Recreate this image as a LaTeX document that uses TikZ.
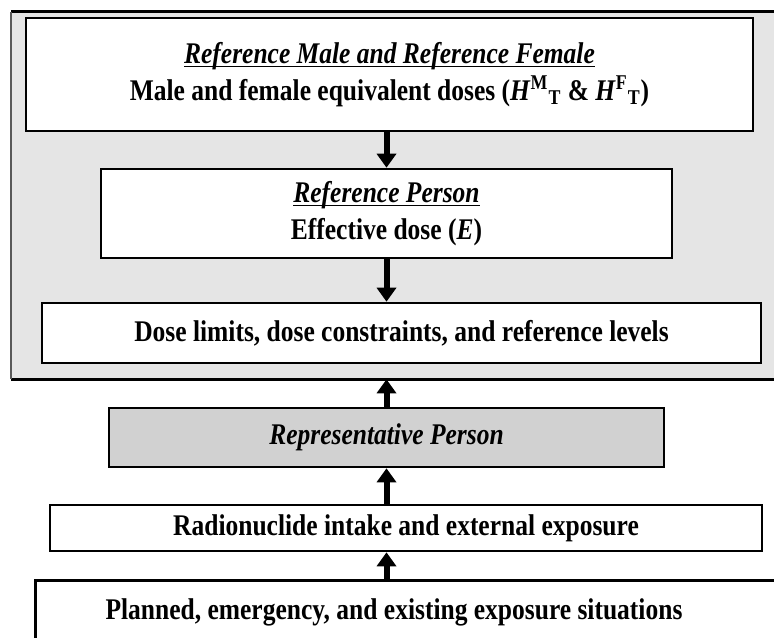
\documentclass[tikz,border=0pt]{standalone}
\usepackage{fontspec}
\setmainfont{Liberation Serif}[FakeStretch=0.85]
\usetikzlibrary{arrows.meta}
\newcommand\undl[1]{\underline{\raisebox{0pt}[\height][0pt]{#1}}}
\tikzset{
  box/.style={draw, line width=1.3pt, fill=white, inner sep=0pt, align=center,
    font=\fontsize{15}{18.5}\selectfont\bfseries},
  txt/.style={inner sep=0pt, align=center, font=\fontsize{15}{18.5}\selectfont\bfseries},
  flow/.style={line width=3pt, -{Triangle[width=9.5pt,length=7pt]}},
}
\begin{document}
\begin{tikzpicture}[x=0.5pt,y=-0.5pt]
  \clip (0,0) rectangle (774,637);
  % grey panel round the three upper boxes
  \node[fill=gray!20, inner sep=0pt, minimum width=394pt, minimum height=183.5pt,
    anchor=north west] (panel) at (11,11.5) {};
  \draw[line width=1.5pt] (panel.north west) -- (panel.north east);
  \draw[line width=1.5pt] (panel.south west) -- (panel.south east);
  \draw[line width=0.8pt, gray!70!black] (panel.north west) -- (panel.south west);

  \node[box, minimum width=363.5pt, minimum height=56.5pt] (male) at (389.5,74.5)
    {\undl{\itshape Reference Male and Reference Female}\\
     Male and female equivalent doses (\textit{H}\textsuperscript{M}\textsubscript{T}
     \& \textit{H}\textsuperscript{F}\textsubscript{T})};
  \node[box, minimum width=285.5pt, minimum height=44.5pt] (person) at (386.5,213.5)
    {\undl{\itshape Reference Person}\\ Effective dose (\textit{E})};
  \node[box, minimum width=359.5pt, minimum height=30pt] (limits) at (401.5,333)
    {Dose limits, dose constraints, and reference levels};
  \node[box, fill=gray!36, minimum width=277.5pt, minimum height=29.5pt] (rep) at (386.5,437.5)
    {\itshape Representative Person};
  \node[box, minimum width=356pt, minimum height=23pt] (intake) at (406,528)
    {Radionuclide intake and external exposure};
  \node[box, minimum width=373pt, minimum height=40pt, anchor=north west] (plan) at (34,579) {};
  \node[txt] (plantext) at (394,612) {Planned, emergency, and existing exposure situations};

  \draw[flow] (male.south -| person.north) -- (person.north);
  \draw[flow] (person.south) -- (person.south |- limits.north);
  \draw[flow] (rep.north) -- (rep.north |- panel.south);
  \draw[flow] (intake.north -| rep.south) -- (rep.south);
  \draw[flow] (plan.north -| rep.south) -- (rep.south |- intake.south);
\end{tikzpicture}
\end{document}
